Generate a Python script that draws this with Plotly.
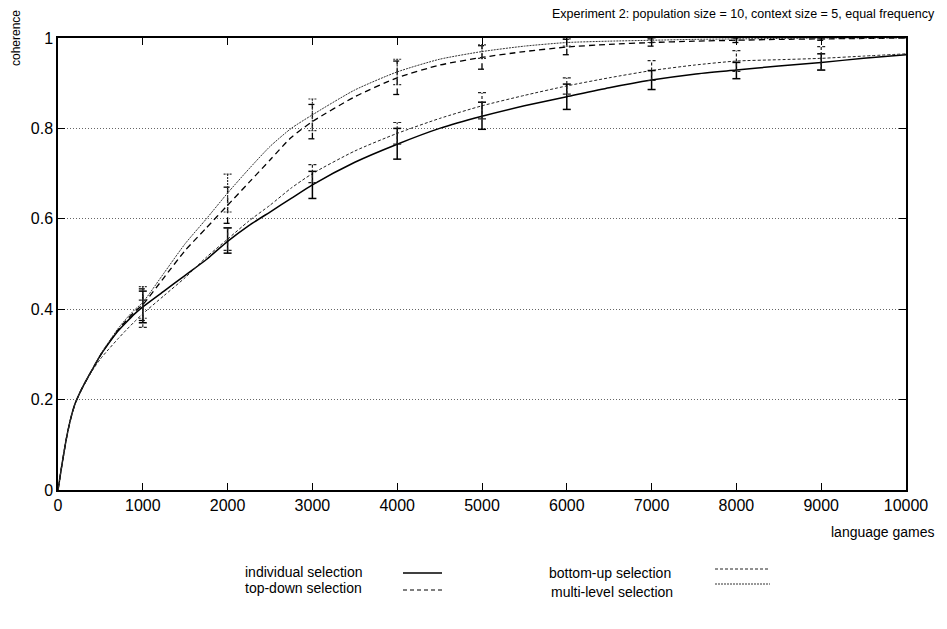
import plotly.graph_objects as go

# ---------------- data ----------------
games = [0, 25, 50, 100, 150, 200, 250, 300, 400, 500, 600, 700, 800, 900, 1000,
         1250, 1500, 1750, 2000, 2250, 2500, 2750, 3000, 3500, 4000, 4500,
         5000, 5500, 6000, 6500, 7000, 7500, 8000, 8500, 9000, 9500, 10000]

individual = [0, 0.03, 0.06, 0.115, 0.158, 0.19, 0.212, 0.231, 0.265, 0.298, 0.325, 0.35, 0.37, 0.389, 0.405,
              0.44, 0.475, 0.51, 0.55, 0.585, 0.615, 0.645, 0.675, 0.725, 0.765, 0.80,
              0.827, 0.85, 0.87, 0.89, 0.907, 0.92, 0.929, 0.938, 0.946, 0.955, 0.963]

top_down = [0, 0.03, 0.06, 0.115, 0.158, 0.19, 0.212, 0.231, 0.265, 0.298, 0.326, 0.352, 0.374, 0.394, 0.41,
            0.47, 0.53, 0.58, 0.63, 0.68, 0.73, 0.78, 0.815, 0.87, 0.912, 0.94,
            0.957, 0.97, 0.98, 0.986, 0.99, 0.993, 0.995, 0.997, 0.998, 0.999, 1.0]

bottom_up = [0, 0.03, 0.06, 0.115, 0.158, 0.19, 0.212, 0.23, 0.263, 0.29, 0.312, 0.333, 0.353, 0.372, 0.39,
             0.43, 0.47, 0.515, 0.555, 0.595, 0.63, 0.668, 0.70, 0.75, 0.789, 0.822,
             0.85, 0.873, 0.894, 0.912, 0.928, 0.94, 0.949, 0.952, 0.955, 0.96, 0.965]

multi_level = [0, 0.03, 0.06, 0.115, 0.158, 0.19, 0.212, 0.232, 0.266, 0.3, 0.328, 0.355, 0.378, 0.398, 0.415,
               0.48, 0.545, 0.60, 0.657, 0.71, 0.76, 0.80, 0.83, 0.885, 0.925, 0.953,
               0.97, 0.982, 0.99, 0.993, 0.995, 0.997, 0.998, 0.999, 1.0, 1.0, 1.0]

err_games = [1000, 2000, 3000, 4000, 5000, 6000, 7000, 8000, 9000]
individual_mean = [0.405, 0.552, 0.675, 0.766, 0.828, 0.870, 0.907, 0.928, 0.947]
individual_err = [0.035, 0.028, 0.030, 0.034, 0.030, 0.028, 0.021, 0.018, 0.018]
top_down_mean = [0.41, 0.63, 0.815, 0.912, 0.957, 0.980, 0.990, 0.995, 0.998]
top_down_err = [0.035, 0.04, 0.038, 0.037, 0.026, 0.017, 0.008, 0.005, 0.003]
bottom_up_mean = [0.39, 0.555, 0.70, 0.789, 0.85, 0.894, 0.928, 0.949, 0.955]
bottom_up_err = [0.03, 0.025, 0.02, 0.024, 0.029, 0.018, 0.022, 0.023, 0.026]
multi_level_mean = [0.415, 0.657, 0.83, 0.925, 0.97, 0.99, 0.995, 0.998, 1.0]
multi_level_err = [0.035, 0.042, 0.035, 0.028, 0.015, 0.008, 0.005, 0.003, 0.002]

x_ticks = [0, 1000, 2000, 3000, 4000, 5000, 6000, 7000, 8000, 9000, 10000]
y_ticks = [0, 0.2, 0.4, 0.6, 0.8, 1]
y_tick_text = ["0", "0.2", "0.4", "0.6", "0.8", "1"]

series_names = ["individual selection", "top-down selection",
                "bottom-up selection", "multi-level selection"]

# ---------------- style ----------------
FONT = "Liberation Sans, Arial, Helvetica, sans-serif"
OFF = 8                      # page body margin offset
W, H = 947 - OFF, 629 - OFF
LEFT, RIGHT, TOP, BOTTOM = 58, 906, 38, 490   # plot area in window pixels
ML, MT = LEFT - OFF, TOP - OFF
MR = W - (RIGHT - OFF)
MB = H - (BOTTOM - OFF)
PLOT_W = RIGHT - LEFT
PLOT_H = BOTTOM - TOP
CAP_HALF = 4 * 10000 / PLOT_W  # 4 px half cap width in data units

styles = [
    dict(color="black", width=1.5, dash="solid"),
    dict(color="black", width=1.3, dash="6px,4px"),
    dict(color="#222", width=1.0, dash="3px,2px"),
    dict(color="#333", width=1.0, dash="2px,1px"),
]
series = [individual, top_down, bottom_up, multi_level]
means = [individual_mean, top_down_mean, bottom_up_mean, multi_level_mean]
errs = [individual_err, top_down_err, bottom_up_err, multi_level_err]

fig = go.Figure()

for name, ys, st in zip(series_names, series, styles):
    fig.add_trace(go.Scatter(x=games, y=ys, mode="lines", name=name,
                             line=dict(color=st["color"], width=st["width"], dash=st["dash"],
                                       shape="spline", smoothing=0.6),
                             showlegend=False, hoverinfo="skip"))

# error bars drawn as segments so they can carry the series' dash style
for name, m, e, st in zip(series_names, means, errs, styles):
    xs, ys = [], []
    for gx, gm, ge in zip(err_games, m, e):
        lo, hi = gm - ge, gm + ge
        xs += [gx, gx, None, gx - CAP_HALF, gx + CAP_HALF, None, gx - CAP_HALF, gx + CAP_HALF, None]
        ys += [lo, hi, None, lo, lo, None, hi, hi, None]
    fig.add_trace(go.Scatter(x=xs, y=ys, mode="lines", name=name + " error",
                             line=dict(color=st["color"], width=max(st["width"], 1.2), dash=st["dash"]),
                             showlegend=False, hoverinfo="skip", cliponaxis=False))

fig.update_layout(
    width=W, height=H,
    margin=dict(l=ML, r=MR, t=MT, b=MB, pad=0),
    paper_bgcolor="white", plot_bgcolor="white",
    font=dict(family=FONT, size=16, color="black"),
    showlegend=False,
)

fig.update_xaxes(range=[0, 10000], tickvals=x_ticks, ticktext=[str(v) for v in x_ticks],
                 ticks="inside", ticklen=7, tickwidth=1, tickcolor="black",
                 showline=True, linecolor="black", linewidth=1.5, mirror="ticks",
                 showgrid=False, zeroline=False, tickfont=dict(size=16))
fig.update_yaxes(range=[0, 1], tickvals=y_ticks, ticktext=y_tick_text,
                 ticks="inside", ticklen=7, tickwidth=1, tickcolor="black",
                 showline=True, linecolor="black", linewidth=1.5, mirror="ticks",
                 showgrid=True, gridcolor="#666", gridwidth=1, griddash="1px,2px",
                 zeroline=False, tickfont=dict(size=16))


def px_x(px):
    return (px - LEFT) / PLOT_W


def px_y(py):
    return (BOTTOM - py) / PLOT_H


annotations = [
    dict(text="Experiment 2: population size = 10, context size = 5, equal frequency",
         x=px_x(937), y=px_y(14), xanchor="right", yanchor="middle",
         font=dict(size=12.5)),
    dict(text="coherence", x=px_x(16), y=px_y(38), textangle=-90,
         xanchor="center", yanchor="middle", font=dict(size=12)),
    dict(text="language games", x=px_x(937), y=px_y(532), xanchor="right",
         yanchor="middle", font=dict(size=14)),
    dict(text=series_names[0], x=px_x(243), y=px_y(572), xanchor="left", yanchor="middle", font=dict(size=14)),
    dict(text=series_names[1], x=px_x(243), y=px_y(588), xanchor="left", yanchor="middle", font=dict(size=14)),
    dict(text=series_names[2], x=px_x(547), y=px_y(573), xanchor="left", yanchor="middle", font=dict(size=14)),
    dict(text=series_names[3], x=px_x(549), y=px_y(592), xanchor="left", yanchor="middle", font=dict(size=14)),
]
for a in annotations:
    a.update(xref="paper", yref="paper", showarrow=False)
fig.update_layout(annotations=annotations)

legend_lines = [
    (403, 442, 573, styles[0]),
    (403, 442, 590, dict(color="black", width=1.2, dash="4px,3px")),
    (715, 770, 569, styles[2]),
    (715, 770, 584, styles[3]),
]
for x0, x1, yy, st in legend_lines:
    fig.add_shape(type="line", xref="paper", yref="paper",
                  x0=px_x(x0), x1=px_x(x1), y0=px_y(yy), y1=px_y(yy),
                  line=dict(color=st["color"], width=st["width"], dash=st["dash"]))

fig.write_html("out.html")
